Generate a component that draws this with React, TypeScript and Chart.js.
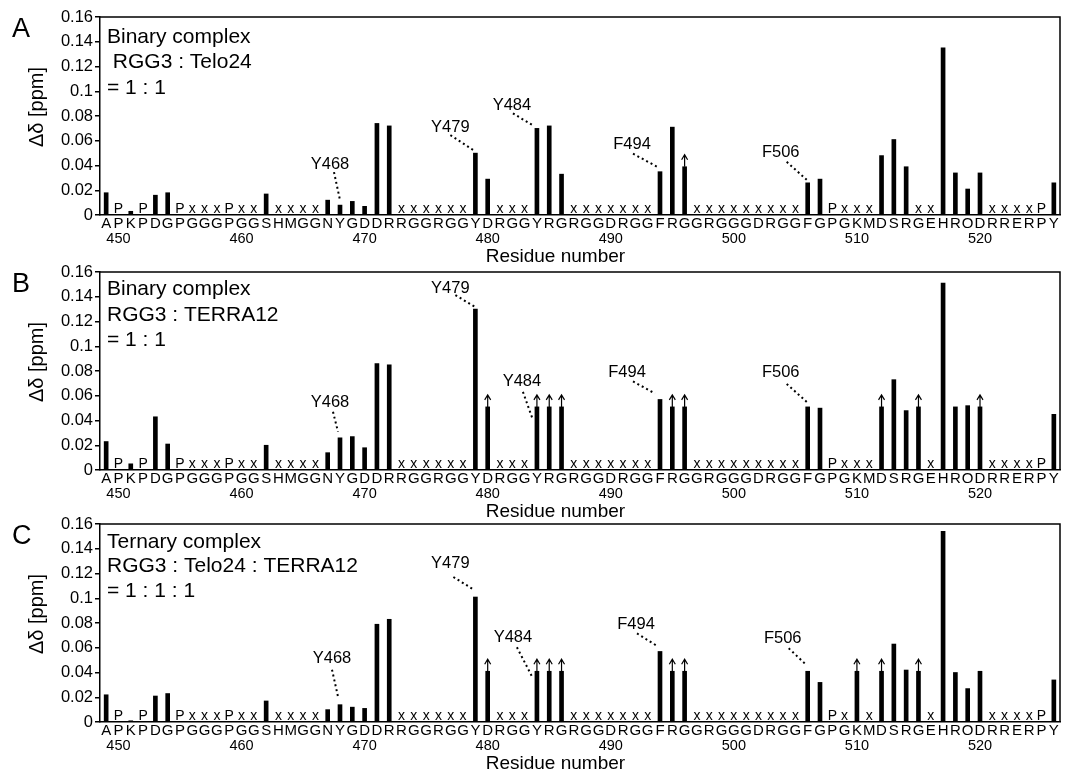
import React, { useEffect, useRef } from "react";
import { Chart, registerables } from "chart.js";

Chart.register(...registerables);

const FONT = "'Liberation Sans', Arial, Helvetica, sans-serif";
Chart.defaults.font.family = FONT;
Chart.defaults.color = "#000";

// ---------- categories ----------
const residueNumbers = [
  449, 450, 451, 452, 453, 454, 455, 456, 457, 458,
  459, 460, 461, 462, 463, 464, 465, 466, 467, 468,
  469, 470, 471, 472, 473, 474, 475, 476, 477, 478,
  479, 480, 481, 482, 483, 484, 485, 486, 487, 488,
  489, 490, 491, 492, 493, 494, 495, 496, 497, 498,
  499, 500, 501, 502, 503, 504, 505, 506, 507, 508,
  509, 510, 511, 512, 513, 514, 515, 516, 517, 518,
  519, 520, 521, 522, 523, 524, 525, 526,
];
const residueLetters = [
  "A", "P", "K", "P", "D", "G", "P", "G", "G", "G",
  "P", "G", "G", "S", "H", "M", "G", "G", "N", "Y",
  "G", "D", "D", "R", "R", "G", "G", "R", "G", "G",
  "Y", "D", "R", "G", "G", "Y", "R", "G", "R", "G",
  "G", "D", "R", "G", "G", "F", "R", "G", "G", "R",
  "G", "G", "G", "D", "R", "G", "G", "F", "G", "P",
  "G", "K", "M", "D", "S", "R", "G", "E", "H", "R",
  "Q", "D", "R", "R", "E", "R", "P", "Y",
];
const numberTicks = [450, 460, 470, 480, 490, 500, 510, 520];
const yTicks = [0, 0.02, 0.04, 0.06, 0.08, 0.1, 0.12, 0.14, 0.16];
const xTitle = "Residue number";
const yTitle = "Δδ [ppm]";

// ---------- series (null = no bar: P = proline, x = not observed) ----------
const valuesA = [
  0.018, null, 0.003, null, 0.016, 0.018, null, null, null, null,
  null, null, null, 0.017, null, null, null, null, 0.012, 0.008,
  0.011, 0.007, 0.074, 0.072, null, null, null, null, null, null,
  0.050, 0.029, null, null, null, 0.070, 0.072, 0.033, null, null,
  null, null, null, null, null, 0.035, 0.071, 0.039, null, null,
  null, null, null, null, null, null, null, 0.026, 0.029, null,
  null, null, null, 0.048, 0.061, 0.039, null, null, 0.135, 0.034,
  0.021, 0.034, null, null, null, null, null, 0.026,
];
const valuesB = [
  0.023, null, 0.005, null, 0.043, 0.021, null, null, null, null,
  null, null, null, 0.020, null, null, null, null, 0.014, 0.026,
  0.027, 0.018, 0.086, 0.085, null, null, null, null, null, null,
  0.130, 0.051, null, null, null, 0.051, 0.051, 0.051, null, null,
  null, null, null, null, null, 0.057, 0.051, 0.051, null, null,
  null, null, null, null, null, null, null, 0.051, 0.050, null,
  null, null, null, 0.051, 0.073, 0.048, 0.051, null, 0.151, 0.051,
  0.052, 0.051, null, null, null, null, null, 0.045,
];
const valuesC = [
  0.022, null, 0.001, null, 0.021, 0.023, null, null, null, null,
  null, null, null, 0.017, null, null, null, null, 0.010, 0.014,
  0.012, 0.011, 0.079, 0.083, null, null, null, null, null, null,
  0.101, 0.041, null, null, null, 0.041, 0.041, 0.041, null, null,
  null, null, null, null, null, 0.057, 0.041, 0.041, null, null,
  null, null, null, null, null, null, null, 0.041, 0.032, null,
  null, 0.041, null, 0.041, 0.063, 0.042, 0.041, null, 0.154, 0.040,
  0.027, 0.041, null, null, null, null, null, 0.034,
];

// residues whose shift exceeds the plotted value (arrow on top)
const arrowsA = [496];
const arrowsB = [480, 484, 485, 486, 495, 496, 512, 515, 520];
const arrowsC = [480, 484, 485, 486, 495, 496, 510, 512, 515];

const boxA = ["Binary complex", " RGG3 : Telo24", "= 1 : 1"];
const boxB = ["Binary complex", "RGG3 : TERRA12", "= 1 : 1"];
const boxC = ["Ternary complex", "RGG3 : Telo24 : TERRA12", "= 1 : 1 : 1"];

type Pt = [number, number];
type Ann = { res: number; text: string; label: Pt; from: Pt; to: Pt };

const annA: Ann[] = [
  { res: 468, text: "Y468", label: [-10, -41], from: [-6, -33], to: [0, -5] },
  { res: 479, text: "Y479", label: [-25, -26], from: [-25, -18], to: [-2, -3] },
  { res: 484, text: "Y484", label: [-25, -23], from: [-24, -15], to: [-4, -3] },
  { res: 494, text: "F494", label: [-28, -27], from: [-27, -18], to: [-3, -5] },
  { res: 506, text: "F506", label: [-27, -30], from: [-21, -21], to: [-1, -3] },
];
const annB: Ann[] = [
  { res: 468, text: "Y468", label: [-10, -35], from: [-7, -26], to: [-2, -6] },
  { res: 479, text: "Y479", label: [-25, -21], from: [-20, -14], to: [0, -2] },
  { res: 484, text: "Y484", label: [-15, -25], from: [-14, -15], to: [-4, 13] },
  { res: 494, text: "F494", label: [-33, -27], from: [-27, -18], to: [-5, -6] },
  { res: 506, text: "F506", label: [-27, -34], from: [-21, -23], to: [-1, -5] },
];
const annC: Ann[] = [
  { res: 468, text: "Y468", label: [-8, -46], from: [-8, -35], to: [-2, -8] },
  { res: 479, text: "Y479", label: [-25, -34], from: [-22, -20], to: [-1, -7] },
  { res: 484, text: "Y484", label: [-24, -34], from: [-20, -24], to: [-4, 7] },
  { res: 494, text: "F494", label: [-24, -27], from: [-23, -18], to: [-2, -5] },
  { res: 506, text: "F506", label: [-25, -33], from: [-19, -23], to: [-1, -6] },
];

interface PanelCfg {
  letter: string;
  values: (number | null)[];
  arrows: number[];
  box: string[];
  boxBaselines: number[];
  anns: Ann[];
}

const panels: { cfg: PanelCfg; top: number }[] = [
  { top: 0, cfg: { letter: "A", values: valuesA, arrows: arrowsA, box: boxA, boxBaselines: [42.5, 68, 94], anns: annA } },
  { top: 255, cfg: { letter: "B", values: valuesB, arrows: arrowsB, box: boxB, boxBaselines: [40, 65.5, 90.5], anns: annB } },
  { top: 507, cfg: { letter: "C", values: valuesC, arrows: arrowsC, box: boxC, boxBaselines: [40.5, 65, 89.5], anns: annC } },
];

const H = 268;

function makeDecor(cfg: PanelCfg) {
  return {
    id: "decor" + cfg.letter,
    afterDatasetsDraw(chart: any) {
      const { ctx, chartArea: ca } = chart;
      const xs = chart.scales.x;
      const ys = chart.scales.y;
      const meta = chart.getDatasetMeta(0);
      ctx.save();
      // frame (top + right)
      ctx.strokeStyle = "#000";
      ctx.lineWidth = 1.5;
      ctx.beginPath();
      ctx.moveTo(ca.left, ca.top);
      ctx.lineTo(ca.right, ca.top);
      ctx.lineTo(ca.right, ca.bottom);
      ctx.stroke();

      // P / x markers
      const y0 = ys.getPixelForValue(0);
      ctx.fillStyle = "#000";
      ctx.font = `14px ${FONT}`;
      ctx.textAlign = "center";
      ctx.textBaseline = "alphabetic";
      cfg.values.forEach((v, i) => {
        if (v === null) {
          ctx.fillText(residueLetters[i] === "P" ? "P" : "x", xs.getPixelForValue(i), y0 - 2);
        }
      });

      // arrows
      ctx.lineWidth = 1.2;
      cfg.arrows.forEach((r) => {
        const el = meta.data[residueNumbers.indexOf(r)];
        const x = el.x;
        const yt = el.y;
        const tip = yt - 12;
        ctx.beginPath();
        ctx.moveTo(x, yt);
        ctx.lineTo(x, tip);
        ctx.moveTo(x - 3, tip + 5);
        ctx.lineTo(x, tip);
        ctx.lineTo(x + 3, tip + 5);
        ctx.stroke();
      });

      // annotations
      ctx.font = `16.5px ${FONT}`;
      ctx.textBaseline = "middle";
      cfg.anns.forEach((a) => {
        const el = meta.data[residueNumbers.indexOf(a.res)];
        ctx.fillText(a.text, el.x + a.label[0], el.y + a.label[1]);
        ctx.save();
        ctx.setLineDash([2, 3]);
        ctx.lineWidth = 2;
        ctx.beginPath();
        ctx.moveTo(el.x + a.from[0], el.y + a.from[1]);
        ctx.lineTo(el.x + a.to[0], el.y + a.to[1]);
        ctx.stroke();
        ctx.restore();
      });

      // axis titles
      ctx.font = `19px ${FONT}`;
      ctx.textAlign = "center";
      ctx.textBaseline = "alphabetic";
      ctx.fillText(xTitle, xs.getPixelForValue(36.5), ca.bottom + 47);
      ctx.save();
      ctx.translate(37, (ca.top + ca.bottom) / 2 - 9);
      ctx.rotate(-Math.PI / 2);
      ctx.font = `20px ${FONT}`;
      ctx.textBaseline = "middle";
      ctx.fillText(yTitle, 0, 0);
      ctx.restore();

      // panel letter and description
      ctx.textAlign = "left";
      ctx.textBaseline = "alphabetic";
      ctx.font = `27px ${FONT}`;
      ctx.fillText(cfg.letter, 12, 37);
      ctx.font = `21px ${FONT}`;
      cfg.box.forEach((t, k) => ctx.fillText(t, 107, cfg.boxBaselines[k]));
      ctx.restore();
    },
  };
}

function Panel({ cfg, top }: { cfg: PanelCfg; top: number }) {
  const ref = useRef<HTMLCanvasElement>(null);
  useEffect(() => {
    const chart = new Chart(ref.current as HTMLCanvasElement, {
      type: "bar",
      data: {
        labels: residueLetters,
        datasets: [
          {
            data: cfg.values as any,
            backgroundColor: "#000",
            borderWidth: 0,
            barThickness: 4,
          },
        ],
      },
      options: {
        animation: false,
        responsive: false,
        maintainAspectRatio: false,
        layout: { padding: { left: 0, right: 8, top: 17, bottom: 0 } },
        plugins: { legend: { display: false }, tooltip: { enabled: false } },
        scales: {
          x: {
            type: "category",
            offset: true,
            weight: 0,
            grid: { display: false, drawTicks: false },
            border: { display: true, color: "#000", width: 1.5 },
            ticks: {
              autoSkip: false,
              maxRotation: 0,
              minRotation: 0,
              padding: 0,
              color: "#000",
              font: { size: 15, family: FONT },
            },
            afterFit: (s: any) => {
              s.height = 13;
            },
          },
          x2: {
            type: "category",
            position: "bottom",
            offset: true,
            weight: 1,
            grid: { display: false, drawTicks: false },
            border: { display: false },
            ticks: {
              autoSkip: false,
              maxRotation: 0,
              minRotation: 0,
              padding: 2,
              color: "#000",
              font: { size: 14.5, family: FONT },
              callback: (_v: any, i: number) =>
                numberTicks.includes(residueNumbers[i]) ? String(residueNumbers[i]) : "",
            },
            afterFit: (s: any) => {
              s.height = 40;
            },
          },
          y: {
            type: "linear",
            min: yTicks[0],
            max: yTicks[yTicks.length - 1],
            grid: { drawOnChartArea: false, drawTicks: true, tickLength: 5, color: "#000", lineWidth: 1.5 },
            border: { display: true, color: "#000", width: 1.5 },
            ticks: {
              stepSize: yTicks[1] - yTicks[0],
              padding: 2,
              color: "#000",
              font: { size: 16.5, family: FONT },
              callback: (v: any) => String(Number(Number(v).toFixed(2))),
            },
            afterFit: (s: any) => {
              s.width = 100;
            },
          },
        },
      },
      plugins: [makeDecor(cfg)],
    } as any);
    return () => chart.destroy();
  }, [cfg]);
  return (
    <canvas
      ref={ref}
      width={1068}
      height={H}
      style={{ position: "absolute", left: 0, top, width: 1068, height: H }}
    />
  );
}

export default function App() {
  return (
    <div
      style={{
        position: "fixed",
        left: 0,
        top: 0,
        width: 1068,
        height: 771,
        overflow: "hidden",
        background: "#fff",
      }}
    >
      {panels.map((p) => (
        <Panel key={p.cfg.letter} cfg={p.cfg} top={p.top} />
      ))}
    </div>
  );
}
